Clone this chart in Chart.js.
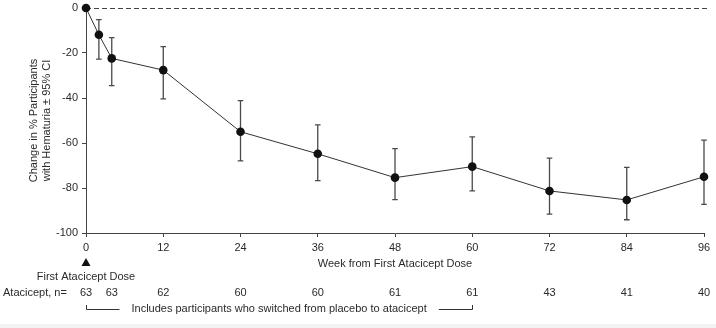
<!DOCTYPE html>
<html><head><meta charset="utf-8">
<script src="https://cdn.jsdelivr.net/npm/chart.js@4"></script>
<style>html,body{margin:0;padding:0;background:#fff;overflow:hidden}#wrap{width:716px;height:328px;position:relative}</style>
</head><body><div id="wrap"><canvas id="c" width="716" height="328"></canvas></div>
<script>
// ---- data ----
const weeks   = [0, 2, 4, 12, 24, 36, 48, 60, 72, 84, 96];
const change  = [0, -11.9, -22.4, -27.6, -55.0, -64.8, -75.4, -70.5, -81.3, -85.3, -75.0];
const ciUpper = [null, -5.2, -13.2, -17.2, -41.2, -51.9, -62.5, -57.3, -66.7, -70.8, -58.7];
const ciLower = [null, -22.7, -34.5, -40.4, -67.9, -76.7, -85.2, -81.3, -91.6, -94.1, -87.3];
const xTicks  = [0, 12, 24, 36, 48, 60, 72, 84, 96];
const yTicks  = [0, -20, -40, -60, -80, -100];
const nWeeks  = [0, 4, 12, 24, 36, 48, 60, 72, 84, 96];
const nValues = [63, 63, 62, 60, 60, 61, 61, 43, 41, 40];
const yTitle  = ['Change in % Participants', 'with Hematuria \u00b1 95% CI'];
const xTitle  = 'Week from First Atacicept Dose';
const doseLabel = 'First Atacicept Dose';
const nLabel  = 'Atacicept, n=';
const bracketText = 'Includes participants who switched from placebo to atacicept';
const bracketFrom = 0, bracketTo = 60;

const FONT = "'Liberation Sans', Arial, Helvetica, sans-serif";
const TXT = '#2a2a2a';
Chart.defaults.font.family = FONT;
Chart.defaults.font.size = 11;
Chart.defaults.color = TXT;

const extras = {
  id: 'extras',
  beforeDraw(chart) {
    const ctx = chart.ctx;
    ctx.save();
    ctx.fillStyle = '#fff';
    ctx.fillRect(0, 0, chart.width, chart.height);
    ctx.fillStyle = '#f2f2f2';
    ctx.fillRect(0, 324, chart.width, chart.height - 324);
    ctx.restore();
  },
  beforeDatasetsDraw(chart) {
    const ctx = chart.ctx, xs = chart.scales.x, ys = chart.scales.y;
    ctx.save();
    // zero reference line
    const y0 = Math.round(ys.getPixelForValue(0)) + 0.5;
    ctx.strokeStyle = '#444';
    ctx.lineWidth = 1;
    ctx.setLineDash([5, 3]);
    ctx.beginPath();
    ctx.moveTo(xs.getPixelForValue(0), y0);
    ctx.lineTo(xs.getPixelForValue(96) + 4, y0);
    ctx.stroke();
    ctx.setLineDash([]);
    // error bars
    ctx.strokeStyle = '#4a4a4a';
    ctx.lineWidth = 1.3;
    weeks.forEach((w, i) => {
      if (ciUpper[i] == null) return;
      const x = xs.getPixelForValue(w);
      const yt = ys.getPixelForValue(ciUpper[i]);
      const yb = ys.getPixelForValue(ciLower[i]);
      ctx.beginPath();
      ctx.moveTo(x, yt); ctx.lineTo(x, yb);
      ctx.moveTo(x - 2.8, yt); ctx.lineTo(x + 2.8, yt);
      ctx.moveTo(x - 2.8, yb); ctx.lineTo(x + 2.8, yb);
      ctx.stroke();
    });
    ctx.restore();
  },
  afterDraw(chart) {
    const ctx = chart.ctx, xs = chart.scales.x;
    ctx.save();
    ctx.fillStyle = TXT;
    ctx.font = '11px ' + FONT;
    // dose marker
    const x0 = xs.getPixelForValue(0);
    ctx.beginPath();
    ctx.moveTo(x0, 258); ctx.lineTo(x0 + 4.5, 266); ctx.lineTo(x0 - 4.5, 266); ctx.closePath();
    ctx.fillStyle = '#111';
    ctx.fill();
    ctx.fillStyle = TXT;
    ctx.textAlign = 'center';
    ctx.textBaseline = 'middle';
    ctx.fillText(doseLabel, x0, 277);
    // n row
    ctx.textAlign = 'left';
    ctx.fillText(nLabel, 3, 293);
    ctx.textAlign = 'center';
    nWeeks.forEach((w, i) => ctx.fillText(String(nValues[i]), xs.getPixelForValue(w), 293));
    // bracket
    const bx1 = xs.getPixelForValue(bracketFrom), bx2 = xs.getPixelForValue(bracketTo);
    const cx = (bx1 + bx2) / 2;
    const tw = ctx.measureText(bracketText).width;
    ctx.fillText(bracketText, cx, 309);
    ctx.strokeStyle = '#333';
    ctx.lineWidth = 1;
    const by = 309.5;
    ctx.beginPath();
    ctx.moveTo(Math.round(bx1) + 0.5, 305); ctx.lineTo(Math.round(bx1) + 0.5, by); ctx.lineTo(cx - tw / 2 - 12, by);
    ctx.moveTo(cx + tw / 2 + 12, by); ctx.lineTo(Math.round(bx2) + 0.5, by); ctx.lineTo(Math.round(bx2) + 0.5, 305);
    ctx.stroke();
    ctx.restore();
  }
};

new Chart(document.getElementById('c'), {
  type: 'scatter',
  data: {
    datasets: [{
      data: weeks.map((w, i) => ({ x: w, y: change[i] })),
      showLine: true,
      borderColor: '#333',
      borderWidth: 1,
      pointRadius: 4.3,
      pointBackgroundColor: '#111',
      pointBorderColor: '#111',
      pointBorderWidth: 0,
      clip: false
    }]
  },
  options: {
    responsive: false,
    animation: false,
    devicePixelRatio: 1,
    layout: { padding: { top: 8, right: 12, bottom: 0, left: 0 } },
    plugins: { legend: { display: false }, tooltip: { enabled: false } },
    scales: {
      x: {
        type: 'linear', min: 0, max: 96,
        afterBuildTicks: s => { s.ticks = xTicks.map(v => ({ value: v })); },
        afterFit: s => { s.height = 95; s.paddingLeft = 0; s.paddingRight = 0; },
        ticks: { padding: 4, color: TXT, font: { size: 11 } },
        grid: { drawOnChartArea: false, drawTicks: true, tickLength: 4, color: '#444' },
        border: { display: true, color: '#444', width: 1 },
        title: { display: true, text: xTitle, color: TXT, font: { size: 11 }, padding: { top: 0, bottom: 57.4 } }
      },
      y: {
        type: 'linear', min: -100, max: 0,
        afterBuildTicks: s => { s.ticks = yTicks.map(v => ({ value: v })); },
        afterFit: s => { s.width = 86; s.paddingTop = 0; s.paddingBottom = 0; },
        ticks: { padding: 4, color: TXT, font: { size: 11 } },
        grid: { drawOnChartArea: false, drawTicks: true, tickLength: 4, color: '#444' },
        border: { display: true, color: '#444', width: 1 },
        title: { display: true, text: yTitle, color: TXT, font: { size: 11, lineHeight: 1.18 }, padding: { top: 27, bottom: 0 } }
      }
    }
  },
  plugins: [extras]
});
</script>
</body></html>
